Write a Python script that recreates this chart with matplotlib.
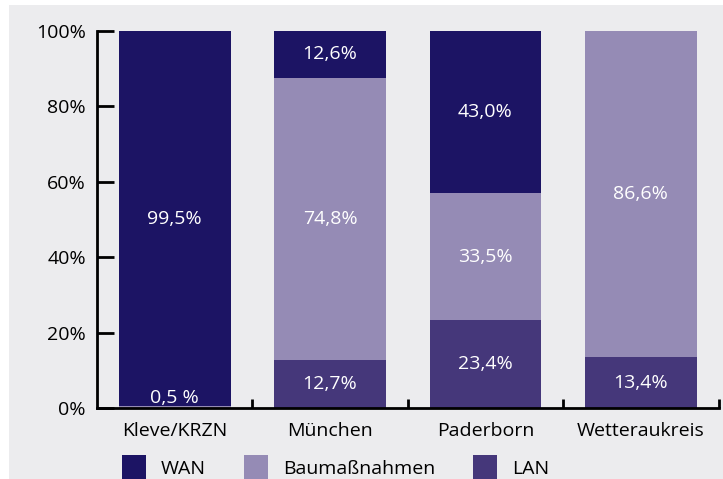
import numpy as np
import matplotlib
matplotlib.use("Agg")
from matplotlib import pyplot as plt
from matplotlib.patches import Rectangle
import matplotlib.ticker as mtick

plt.rcParams['font.family'] = ['Open Sans', 'DejaVu Sans']

categories = ["Kleve/KRZN", "München", "Paderborn", "Wetteraukreis"]
lan = np.array([0.0, 12.7, 23.4, 13.4])
bau = np.array([0.5, 74.8, 33.5, 86.6])
wan = np.array([99.5, 12.6, 43.0, 0.0])

lan_labels = ["", "12,7%", "23,4%", "13,4%"]
bau_labels = ["0,5 %", "74,8%", "33,5%", "86,6%"]
wan_labels = ["99,5%", "12,6%", "43,0%", ""]

c_wan = "#1c1464"
c_bau = "#958bb5"
c_lan = "#45377a"
bg = "#ececee"

fig = plt.figure(figsize=(7.23, 4.79), dpi=100, facecolor="white")
fig.patches.append(Rectangle((9 / 723, 0), 1, 1 - 5 / 479, transform=fig.transFigure,
                             facecolor=bg, edgecolor="none", zorder=-10))
ax = fig.add_axes([97 / 723, 71 / 479, 621.5 / 723, 377 / 479])
ax.set_facecolor("none")

x = np.arange(len(categories))
w = 0.72
ax.bar(x, lan, w, color=c_lan, label="LAN")
ax.bar(x, bau, w, bottom=lan, color=c_bau, label="Baumaßnahmen")
ax.bar(x, wan, w, bottom=lan + bau, color=c_wan, label="WAN")

fs = 14
for i in range(len(x)):
    if lan_labels[i]:
        ax.text(x[i], lan[i] / 2, lan_labels[i], color="white", ha="center", va="center", fontsize=fs)
    if bau_labels[i]:
        ypos = lan[i] + bau[i] / 2
        if bau[i] < 3:
            ypos = 2.6
        ax.text(x[i], ypos, bau_labels[i], color="white", ha="center", va="center", fontsize=fs)
    if wan_labels[i]:
        ax.text(x[i], lan[i] + bau[i] + wan[i] / 2, wan_labels[i], color="white",
                ha="center", va="center", fontsize=fs)

ax.set_xlim(-0.5, 3.5)
ax.set_ylim(0, 100)
ax.set_yticks([0, 20, 40, 60, 80, 100])
ax.yaxis.set_major_formatter(mtick.FuncFormatter(lambda v, p: "%d%%" % v))
ax.set_xticks(x)
ax.set_xticklabels(categories)
ax.set_xticks([0.5, 1.5, 2.5, 3.5], minor=True)

ax.tick_params(axis="y", direction="in", length=12, width=2, pad=8, labelsize=fs, color="black")
ax.tick_params(axis="x", which="major", length=0, pad=10, labelsize=fs)
ax.tick_params(axis="x", which="minor", direction="in", length=6.5, width=2)
ax.yaxis.set_minor_locator(mtick.NullLocator())

for s in ["top", "right"]:
    ax.spines[s].set_visible(False)
for s in ["left", "bottom"]:
    ax.spines[s].set_linewidth(2)
    ax.spines[s].set_capstyle("projecting")

handles, labels = ax.get_legend_handles_labels()
fig.legend(handles[::-1], labels[::-1], ncol=3, frameon=False, fontsize=fs,
           loc="upper left", bbox_to_anchor=(122 / 723, 1 - 455 / 479),
           borderpad=0, borderaxespad=0, handlelength=1.25, handleheight=1.7,
           handletextpad=0.75, columnspacing=1.95)

fig.savefig("out.png", dpi=100, facecolor=fig.get_facecolor())
